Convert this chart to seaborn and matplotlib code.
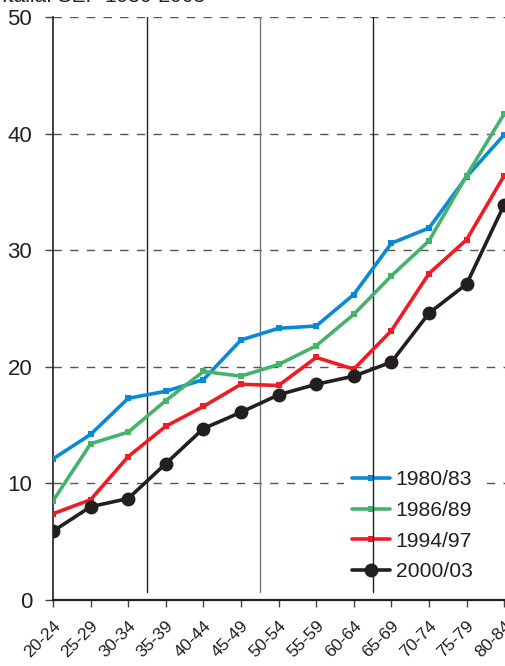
import numpy as np
import pandas as pd
import matplotlib
matplotlib.use("Agg")
import matplotlib.pyplot as plt
import seaborn as sns


age_groups = ["20-24", "25-29", "30-34", "35-39", "40-44", "45-49", "50-54",
              "55-59", "60-64", "65-69", "70-74", "75-79", "80-84"]
periods = ["1980/83", "1986/89", "1994/97", "2000/03"]

v_1980 = [12.1, 14.2, 17.3, 17.9, 18.9, 22.3, 23.3, 23.5, 26.2, 30.6, 31.9, 36.3, 39.9]
v_1986 = [8.5, 13.4, 14.4, 17.1, 19.6, 19.2, 20.2, 21.8, 24.5, 27.8, 30.8, 36.4, 41.7]
v_1994 = [7.4, 8.6, 12.3, 14.9, 16.6, 18.5, 18.4, 20.8, 19.8, 23.1, 28.0, 30.9, 36.4]
v_2000 = [5.9, 8.0, 8.7, 11.7, 14.7, 16.1, 17.6, 18.5, 19.2, 20.4, 24.6, 27.1, 33.9]

title = "Italia: SEP 1980-2003"

series = dict(zip(periods, [v_1980, v_1986, v_1994, v_2000]))
colors = {"1980/83": "#0a8ad6", "1986/89": "#44b36c",
          "1994/97": "#ee1c25", "2000/03": "#231f20"}

rows = []
for p, vals in series.items():
    for i, v in enumerate(vals):
        rows.append({"pos": i, "age": age_groups[i], "period": p, "rate": v})
df = pd.DataFrame(rows)

sns.set_style("white")
plt.rcParams["font.family"] = ["Liberation Sans", "DejaVu Sans"]

W, H = 505, 666
fig = plt.figure(figsize=(W / 100, H / 100), dpi=100)
ax = fig.add_axes([53 / W, 1 - 600 / H, (W - 53) / W, (600 - 17) / H])

# dashed horizontal grid
for yv in [10, 20, 30, 40, 50]:
    ax.axhline(yv, color="#555555", lw=1.0, ls=(0, (6, 6)), zorder=0)
# vertical separators between age bands (drawn over the legend box)
for xv, c in zip([2.5, 5.5, 8.5], ["#222222", "#777777", "#222222"]):
    ax.plot([xv, xv], [0.7, 50], color=c, lw=1.0, zorder=2)

for p in periods:
    sub = df[df["period"] == p]
    is_last = p == "2000/03"
    sns.lineplot(data=sub, x="pos", y="rate", ax=ax, color=colors[p],
                 lw=2.6, marker="o" if is_last else "s",
                 markersize=10 if is_last else 5,
                 markeredgewidth=0, label=p, zorder=3)

ax.set_xlim(0, (W - 53) / 37.6)
ax.set_ylim(0, 50)
ax.set_xticks(np.arange(len(age_groups)))
ax.set_xticklabels(age_groups, rotation=45, ha="right", va="top",
                   rotation_mode="anchor", fontsize=12.5, color="#231f20")
ax.set_yticks([0, 10, 20, 30, 40, 50])
ax.set_yticklabels(["0", "10", "20", "30", "40", "50"], fontsize=16,
                   color="#231f20")
ax.tick_params(axis="y", direction="out", length=6, width=1, pad=9,
               color="#444444", left=True)
ax.tick_params(axis="x", direction="out", length=5, width=1, pad=8,
               color="#444444", bottom=True)
ax.set_xlabel("")
ax.set_ylabel("")

for s in ["top", "right"]:
    ax.spines[s].set_visible(False)
ax.spines["left"].set_color("#231f20")
ax.spines["left"].set_linewidth(1.2)
ax.spines["bottom"].set_color("#231f20")
ax.spines["bottom"].set_linewidth(1.6)

leg = ax.legend(loc="upper left", bbox_to_anchor=(344 / W, 1 - 462 / H),
                bbox_transform=fig.transFigure, frameon=True, fontsize=15.2,
                handlelength=1.8, handletextpad=0.25, labelspacing=0.55,
                borderaxespad=0, borderpad=0.4, fancybox=False,
                facecolor="white", edgecolor="none", framealpha=1)
leg.set_zorder(1)
for t in leg.get_texts():
    t.set_color("#231f20")

fig.text(2 / W, 1 - 2.5 / H, title, fontsize=15, color="#231f20", va="baseline")

fig.savefig("out.png", dpi=100)
